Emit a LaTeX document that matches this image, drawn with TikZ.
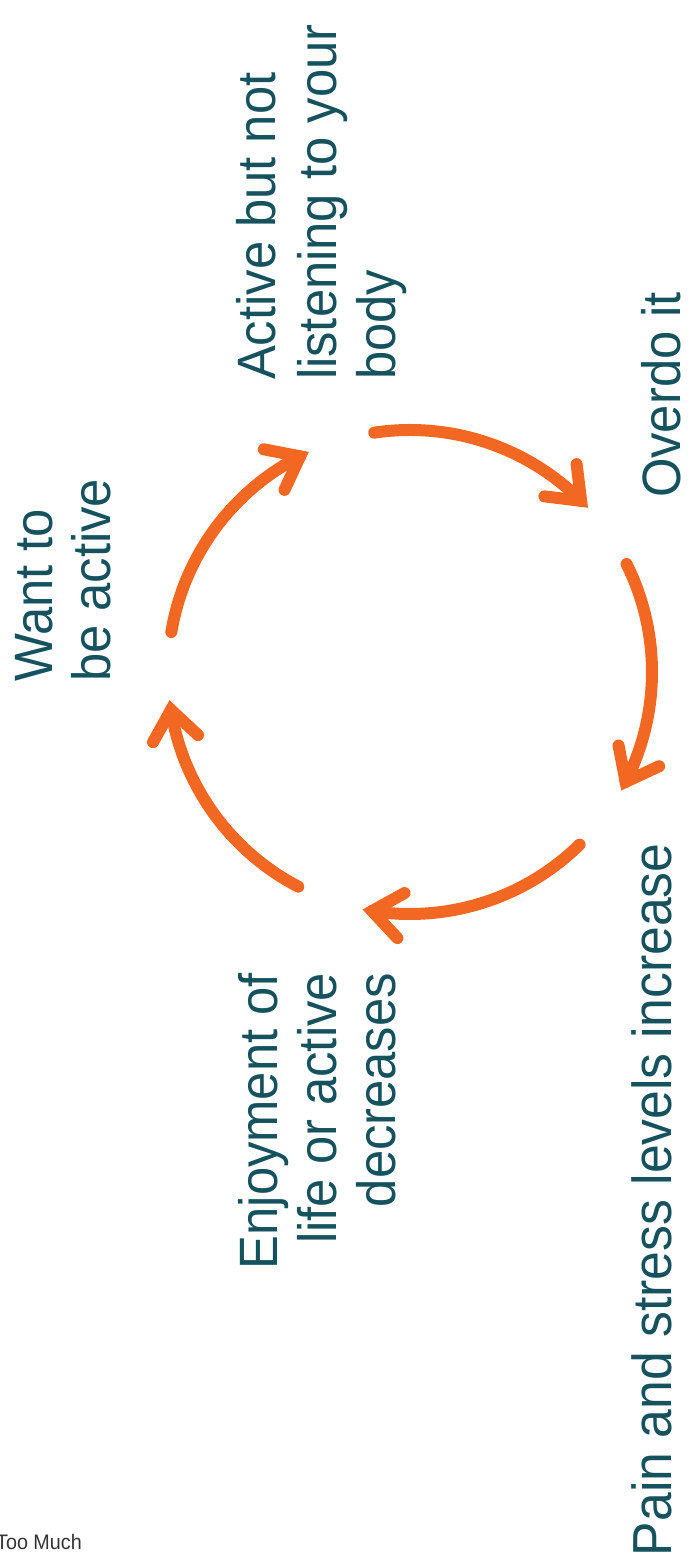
\documentclass[tikz,border=0pt]{standalone}
\usepackage{fontspec}
\setmainfont{Liberation Sans}[FakeStretch=0.94]
\usetikzlibrary{calc}
\definecolor{cyctext}{HTML}{16525E}
\definecolor{cycorange}{HTML}{F26722}
\begin{document}
\begin{tikzpicture}[x=1pt,y=1pt,
  lbl/.style={rotate=90, inner sep=0pt, outer sep=0pt, text=cyctext, font=\fontsize{54}{58}\selectfont},
  cyc/.style={draw=cycorange, line width=12pt, line cap=round},
  head/.style={draw=cycorange, line width=12pt, line cap=round, line join=miter}]
\useasboundingbox (0,0) rectangle (688,1560);
\coordinate (c) at (410,888);
% labels
\node[lbl, anchor=base west] (want1) at (52,878) {Want to};
\node[lbl, anchor=base west] (want2) at (110,878) {be active};
\node[lbl, anchor=base west] (act1) at (275,1180) {Active but not};
\node[lbl, anchor=base west] (act2) at (336,1180) {listening to your};
\node[lbl, anchor=base west] (act3) at (395,1180) {body};
\node[lbl, anchor=base west] (over) at (680,1062) {Overdo it};
\node[lbl, anchor=base west, font=\fontsize{55}{58}\selectfont] (pain) at (671,4) {Pain and stress levels increase};
\node[lbl, anchor=base east] (enj1) at (277,587) {Enjoyment of};
\node[lbl, anchor=base east] (enj2) at (336,587) {life or active};
\node[lbl, anchor=base east] (enj3) at (395,587) {decreases};
\node[anchor=base west, inner sep=0pt, font=\fontsize{21}{24}\selectfont, text=black!80] (foot) at (-4,10) {Too Much};
% cycle arrows
\foreach \k in {0,...,4}{
  \pgfmathsetmacro\s{170.5-72*\k}
  \pgfmathsetmacro\e{\s-53.5}
  \draw[cyc] ($(c)+(\s:242)$) arc[start angle=\s, end angle=\e, radius=242];
  \coordinate (tip\k) at ($(c)+(\e:242)$);
  \draw[head] ($(tip\k)+(\e+90-38:37)$) -- (tip\k) -- ($(tip\k)+(\e+90+38:37)$);
}
\end{tikzpicture}
\end{document}
